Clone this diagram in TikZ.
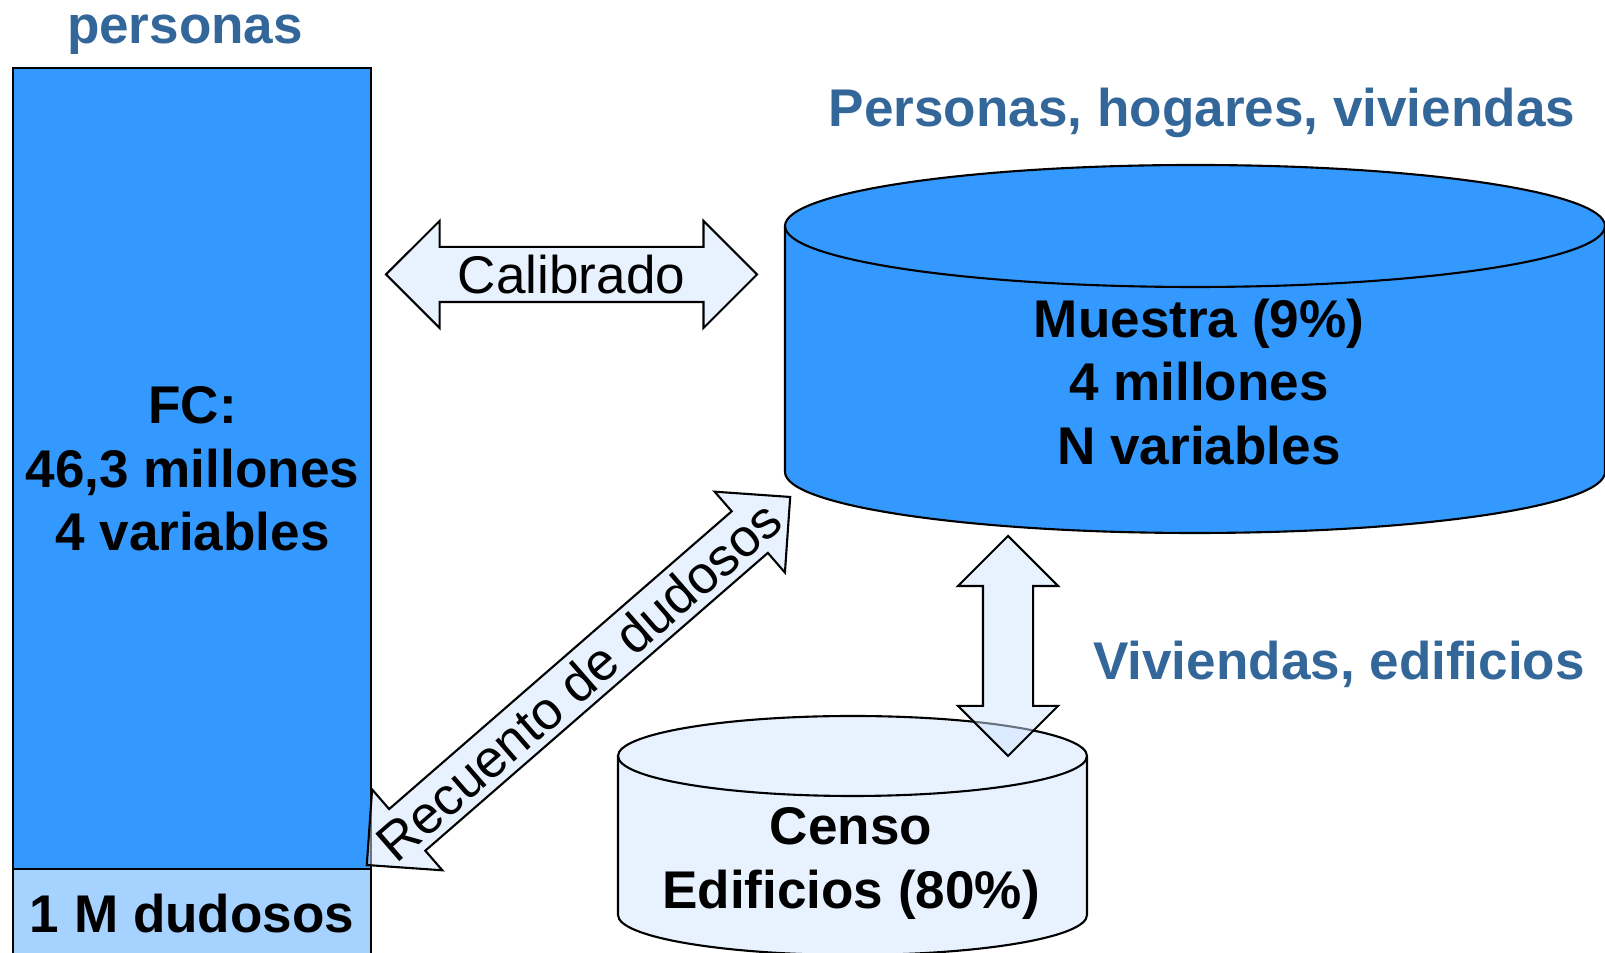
\documentclass[tikz,border=0pt]{standalone}
\usepackage{fontspec}
\setmainfont{Liberation Sans}
\usetikzlibrary{shapes.arrows}

\definecolor{azul}{RGB}{51,153,255}
\definecolor{azulclaro}{RGB}{166,210,255}
\definecolor{palido}{RGB}{232,242,255}
\definecolor{flechafill}{RGB}{210,230,255}
\definecolor{azultitulo}{RGB}{51,102,153}
\newcommand{\tam}{\fontsize{15.1}{18.1}\selectfont}

\begin{document}
\begin{tikzpicture}[line width=0.6pt,
        texto/.style={font=\tam\bfseries, align=center},
        rotulo/.style={font=\tam\bfseries, text=azultitulo},
        flecha/.style={double arrow, draw, fill=flechafill, fill opacity=0.5, text opacity=1,
            double arrow tip angle=90, inner xsep=0pt, text depth=0pt, font=\tam}]
        \useasboundingbox (0,0) rectangle (16.05,9.53);
        \clip (0,0) rectangle (16.05,9.53);

        % fichero de personas
        \draw[fill=azul] (0.13,0.84) rectangle (3.71,8.85);
        \draw[fill=azulclaro] (0.13,-0.2) rectangle (3.71,0.84);
        \node[rotulo, anchor=base] (personas) at (1.85,9.09) {personas};
        \node[texto] (fc) at (1.925,4.84) {FC:\\46,3 millones\\4 variables};
        \node[texto] (dudosos) at (1.92,0.39) {1 M dudosos};

        % muestra
        \draw[fill=azul] (7.85,7.27) -- (7.85,4.81)
            arc[start angle=180, end angle=360, x radius=4.10, y radius=0.61] -- (16.05,7.27)
            arc[start angle=0, end angle=180, x radius=4.10, y radius=0.61] -- cycle;
        \draw (7.85,7.27) arc[start angle=180, end angle=360, x radius=4.10, y radius=0.61];
        \node[texto] (muestra) at (11.99,5.71) {Muestra (9\%)\\4 millones\\N variables};
        \node[rotulo, anchor=base] (hogares) at (12.02,8.26) {Personas, hogares, viviendas};

        % censo
        \draw[fill=palido] (6.18,1.97) -- (6.18,0.38)
            arc[start angle=180, end angle=360, x radius=2.345, y radius=0.40] -- (10.87,1.97)
            arc[start angle=0, end angle=180, x radius=2.345, y radius=0.40] -- cycle;
        \draw (6.18,1.97) arc[start angle=180, end angle=360, x radius=2.345, y radius=0.40];
        \node[texto] (censo) at (8.51,0.895) {Censo\\Edificios (80\%)};
        \node[rotulo, anchor=base] (edificios) at (13.39,2.73) {Viviendas, edificios};

        % flechas
        \node[flecha, minimum height=3.71cm, minimum width=1.05cm, double arrow head extend=0.26cm,
            inner ysep=0.075cm, text height=0.38cm] (calibrado) at (5.715,6.785) {Calibrado};
        \node[flecha, rotate=41, minimum height=5.61cm, minimum width=1.05cm, double arrow head extend=0.26cm,
            inner ysep=0.075cm, text height=0.38cm] (recuento) at (5.785,2.72) {};
        \node[font=\tam, rotate=41] (recuentotxt) at (recuento.center) {Recuento de dudosos};
        \node[flecha, rotate=90, minimum height=2.20cm, minimum width=0.98cm, double arrow head extend=0.25cm,
            inner ysep=0.24cm, text height=0cm] (enlace) at (10.08,3.07) {};

    \end{tikzpicture}
\end{document}
